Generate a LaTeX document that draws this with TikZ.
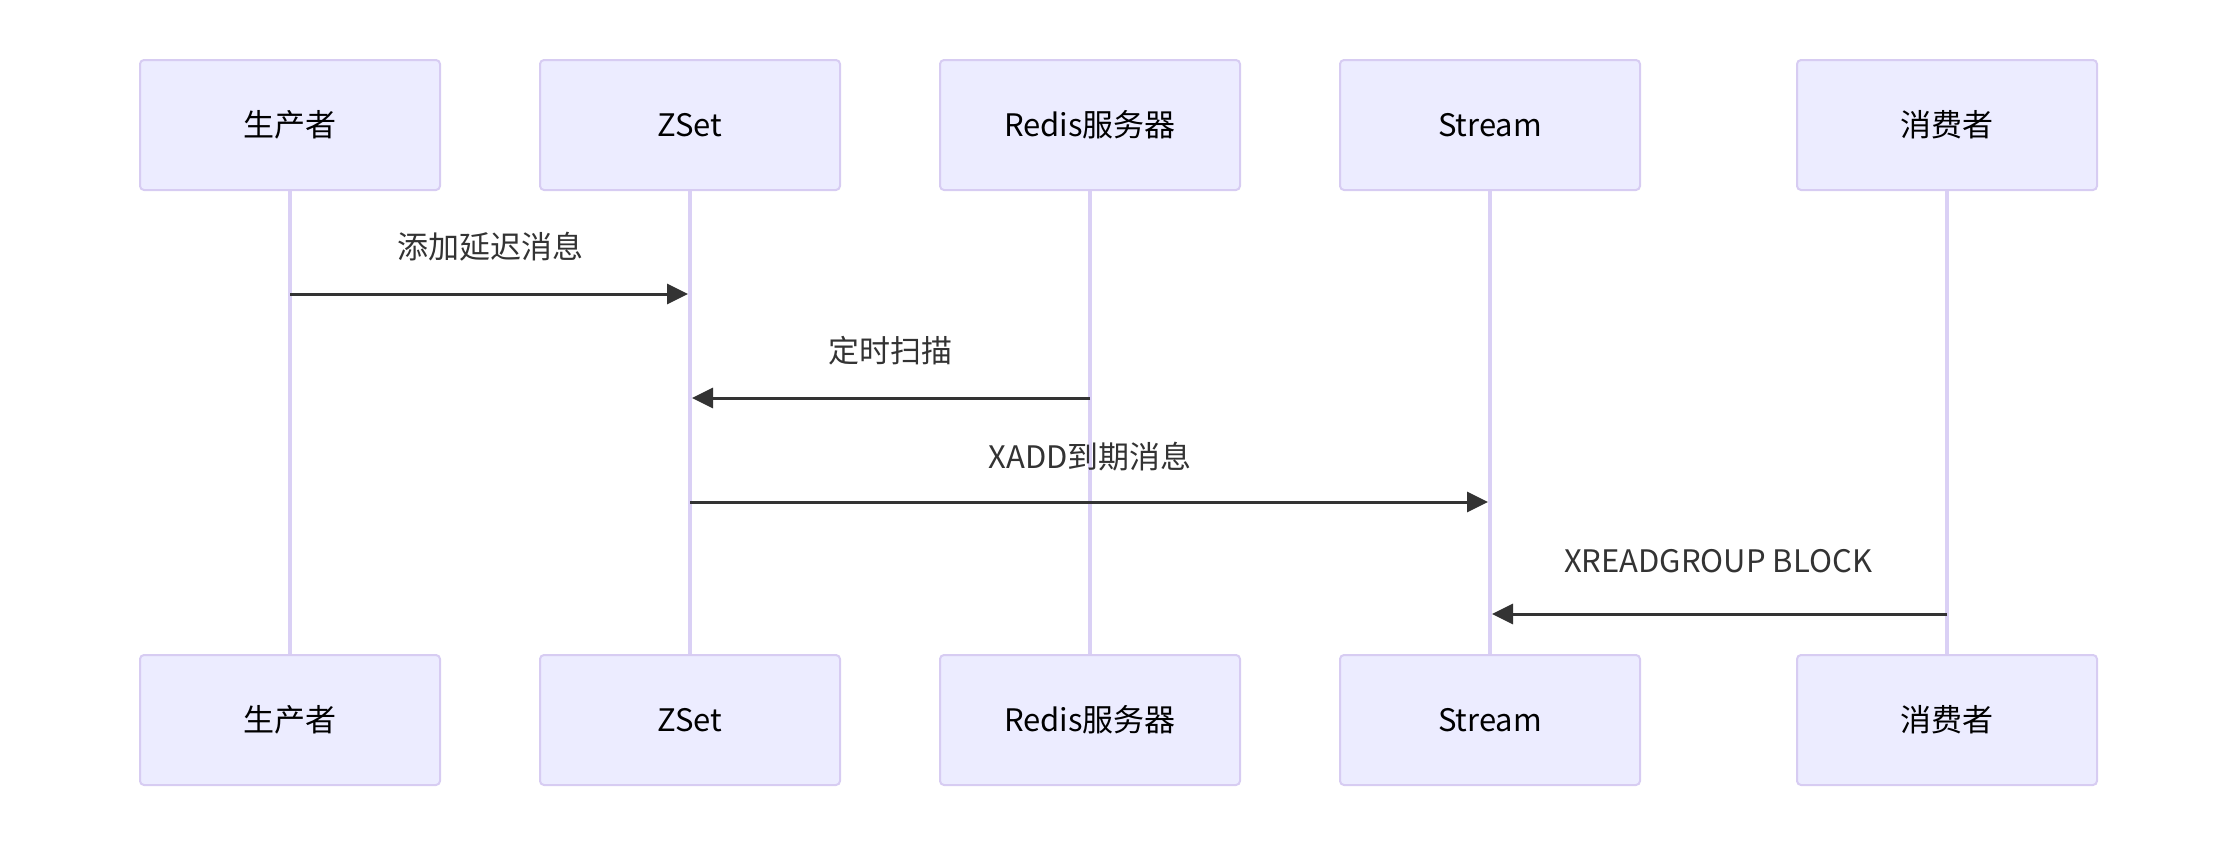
\documentclass[tikz,border=0pt]{standalone}
\usepackage{fontspec}
\setmainfont{Noto Sans CJK SC}
\usetikzlibrary{arrows.meta}
\definecolor{actfill}{HTML}{ECECFF}
\definecolor{actline}{HTML}{D7CCF2}
\definecolor{lifecol}{HTML}{DAD0F5}
\definecolor{msgcol}{HTML}{333333}
\tikzset{
  actor/.style={draw=actline, line width=2pt, fill=actfill, rounded corners=4pt,
    minimum width=300pt, minimum height=130pt, inner sep=0pt, text=black,
    font=\fontsize{31}{37}\selectfont},
  lifeline/.style={draw=lifecol, line width=3.5pt},
  msg/.style={draw=msgcol, line width=3pt, -{Triangle[length=21pt,width=20pt]}, shorten >=2pt},
  msglabel/.style={text=msgcol, inner sep=0pt, font=\fontsize{31}{37}\selectfont}
}
\begin{document}
\begin{tikzpicture}[x=1pt,y=-1pt]
\useasboundingbox (0,0) rectangle (2238,846);
% top actors
\node[actor] (p1) at (290,125) {生产者};
\node[actor] (z1) at (690,125) {ZSet};
\node[actor] (r1) at (1090,125) {Redis服务器};
\node[actor] (s1) at (1490,125) {Stream};
\node[actor] (c1) at (1947,125) {消费者};
% bottom actors
\node[actor] (p2) at (290,720) {生产者};
\node[actor] (z2) at (690,720) {ZSet};
\node[actor] (r2) at (1090,720) {Redis服务器};
\node[actor] (s2) at (1490,720) {Stream};
\node[actor] (c2) at (1947,720) {消费者};
% lifelines
\begin{scope}[on background layer/.style={}]
\draw[lifeline] (p1.south) -- (p2.north);
\draw[lifeline] (z1.south) -- (z2.north);
\draw[lifeline] (r1.south) -- (r2.north);
\draw[lifeline] (s1.south) -- (s2.north);
\draw[lifeline] (c1.south) -- (c2.north);
\end{scope}
% message anchor coordinates
\coordinate (m1a) at (p1.south |- 0,294);
\coordinate (m1b) at (z1.south |- 0,294);
\coordinate (m2a) at (r1.south |- 0,398);
\coordinate (m2b) at (z1.south |- 0,398);
\coordinate (m3a) at (z1.south |- 0,502);
\coordinate (m3b) at (s1.south |- 0,502);
\coordinate (m4a) at (c1.south |- 0,614);
\coordinate (m4b) at (s1.south |- 0,614);
\draw[msg] (m1a) -- (m1b);
\draw[msg] (m2a) -- (m2b);
\draw[msg] (m3a) -- (m3b);
\draw[msg] (m4a) -- (m4b);
\node[msglabel] (l1) at (490,247) {添加延迟消息};
\node[msglabel] (l2) at (890,351) {定时扫描};
\node[msglabel] (l3) at (1090,457) {XADD到期消息};
\node[msglabel] (l4) at (1718,561) {XREADGROUP BLOCK};
\end{tikzpicture}
\end{document}
